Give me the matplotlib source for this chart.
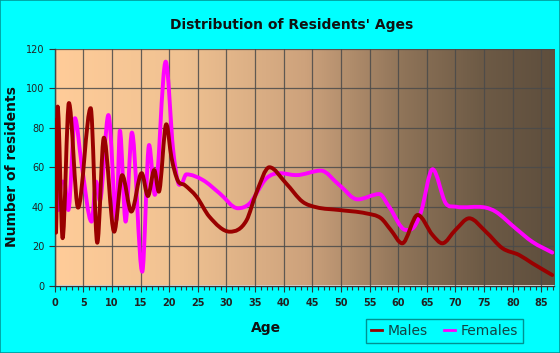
import numpy as np
import matplotlib
matplotlib.use("Agg")
import matplotlib.pyplot as plt
from matplotlib.path import Path
from matplotlib.patches import PathPatch
from matplotlib.colors import LinearSegmentedColormap
from matplotlib.lines import Line2D

# ---- data ----
ages_m = [0.0, 0.25, 0.53, 1.4, 2.5, 4.1, 6.3, 7.45, 8.6, 10.4, 11.8, 13.4, 15.2,
          16.3, 17.4, 18.2, 19.5, 20.4, 21.5, 22.7, 24.8, 27.0, 30.6, 33.5, 35.2,
          37.5, 40.4, 43.3, 45.7, 49.7, 54.4, 57.0, 58.7, 60.7, 63.4, 66.0, 67.7,
          70.0, 72.4, 75.3, 78.2, 81.1, 83.4, 86.9]
males = [84, 26.8, 90.8, 24, 92.6, 39.5, 90, 21.7, 75, 27.3, 56, 37.5, 57,
         45.4, 58.6, 47.6, 81.8, 65, 53.3, 51, 45, 35, 27.3, 33, 46.8,
         60, 51.9, 42.5, 39.7, 38.3, 36.6, 34.1, 28.2, 21.4, 35.8, 25.6, 21.4,
         28.2, 34.1, 27.3, 18.9, 15.5, 11.3, 5.3]

ages_f = [0.35, 0.65, 1.2, 1.7, 2.4, 3.55, 4.7, 6.45, 7.25, 7.9, 9.4, 10.8, 11.4,
          12.4, 13.5, 15.3, 16.5, 17.5, 19.4, 20.7, 21.6, 22.1, 23.0, 25.9, 28.8,
          32.0, 34.0, 37.0, 39.3, 42.2, 46.5, 49.7, 52.9, 56.7, 58.4, 61.3, 62.8,
          64.0, 66.0, 68.3, 70.0, 75.3, 77.0, 80.5, 83.4, 86.9]
females = [42, 38.3, 52.7, 52.7, 38.3, 84.9, 62, 32.4, 52.7, 43, 86.5, 33.2, 78.6,
           32.4, 77.6, 7, 71.3, 46, 113.6, 68.8, 51.9, 51.5, 56.4, 53.5, 46.8,
           39.2, 41.5, 54.4, 57, 56, 58.3, 51, 43.7, 46.4, 40, 28.2, 29.8,
           37.5, 59, 41.7, 40, 39.5, 37.5, 29, 22.2, 16.7]

x_ticks = [0, 5, 10, 15, 20, 25, 30, 35, 40, 45, 50, 55, 60, 65, 70, 75, 80, 85]
y_ticks = [0, 20, 40, 60, 80, 100, 120]

MALE_C = "#990000"
FEMALE_C = "#FF00FF"


def smooth_path(xs, ys):
    xs = np.asarray(xs, float)
    ys = np.asarray(ys, float)
    n = len(xs)
    sec = np.diff(ys) / np.diff(xs)
    m = np.zeros(n)
    m[0] = sec[0]
    m[-1] = sec[-1]
    for i in range(1, n - 1):
        if sec[i - 1] * sec[i] <= 0:
            m[i] = 0.0
        else:
            m[i] = (sec[i - 1] + sec[i]) / 2.0
    verts = [(xs[0], ys[0])]
    codes = [Path.MOVETO]
    for i in range(n - 1):
        h = xs[i + 1] - xs[i]
        verts += [(xs[i] + h / 3, ys[i] + m[i] * h / 3),
                  (xs[i + 1] - h / 3, ys[i + 1] - m[i + 1] * h / 3),
                  (xs[i + 1], ys[i + 1])]
        codes += [Path.CURVE4] * 3
    return Path(verts, codes)


fig = plt.figure(figsize=(5.6, 3.53), dpi=100, facecolor="#00FFFF")
fig.patches.append(plt.Rectangle((0, 0), 1, 1, transform=fig.transFigure,
                                 fill=False, edgecolor="#009999", linewidth=1.2))

ax = fig.add_axes([54.6 / 560, 1 - 285.5 / 353, (554 - 54.6) / 560, (285.5 - 49) / 353])
ax.set_xlim(0, 87.2)
ax.set_ylim(0, 120)

cmap = LinearSegmentedColormap.from_list("bg", [
    (0.0, "#FFCC99"), (0.25, "#F0C292"), (0.5, "#CDA27C"),
    (0.7, "#8E7358"), (0.85, "#6E5B46"), (1.0, "#5E4E3D")])
grad = np.linspace(0, 1, 512).reshape(1, -1)
ax.imshow(grad, cmap=cmap, extent=[0, 87.2, 0, 120], aspect="auto",
          interpolation="bilinear", zorder=0)

ax.set_xticks(x_ticks)
ax.set_xticks(np.arange(0, 88, 1), minor=True)
ax.set_yticks(y_ticks)
ax.grid(True, which="major", color="#4a4a4a", linewidth=0.9, alpha=0.85, zorder=1)
ax.set_axisbelow(False)

for sp in ["top", "right"]:
    ax.spines[sp].set_visible(False)
for sp in ["left", "bottom"]:
    ax.spines[sp].set_color("#333333")
    ax.spines[sp].set_linewidth(1.0)

ax.tick_params(axis="both", which="major", length=4, color="#333333",
               labelsize=7, labelcolor="#222222", width=0.8)
ax.tick_params(axis="x", which="minor", length=3, color="#333333", width=0.8)
ax.tick_params(axis="x", pad=5)
for lab in ax.get_xticklabels():
    lab.set_fontweight("bold")

for xs, ys, c in [(ages_f, females, FEMALE_C), (ages_m, males, MALE_C)]:
    p = PathPatch(smooth_path(xs, ys), facecolor="none", edgecolor=c,
                  linewidth=2.8, capstyle="round", joinstyle="round", zorder=3)
    ax.add_patch(p)

fig.text(0.521, 1 - 25 / 353, "Distribution of Residents' Ages", ha="center",
         va="center", fontsize=10, fontweight="bold", color="#111111")
fig.text(12 / 560, 1 - 167 / 353, "Number of residents", ha="center", va="center",
         rotation=90, fontsize=10, fontweight="bold", color="#111111")
fig.text(266 / 560, 1 - 328 / 353, "Age", ha="center", va="center",
         fontsize=10, fontweight="bold", color="#111111")

handles = [Line2D([], [], color=MALE_C, linewidth=2),
           Line2D([], [], color=FEMALE_C, linewidth=2)]
leg = fig.legend(handles, ["Males", "Females"], loc="center",
                 bbox_to_anchor=(444.5 / 560, 1 - 331 / 353), ncol=2,
                 fontsize=10, frameon=True, fancybox=False, handlelength=0.8,
                 handletextpad=0.4, columnspacing=1.2, borderpad=0.35,
                 borderaxespad=0)
leg.get_frame().set_edgecolor("#007777")
leg.get_frame().set_facecolor("#00FFFF")
leg.get_frame().set_linewidth(1.0)
for t in leg.get_texts():
    t.set_color("#114444")

fig.savefig("out.png", dpi=100, facecolor=fig.get_facecolor())
